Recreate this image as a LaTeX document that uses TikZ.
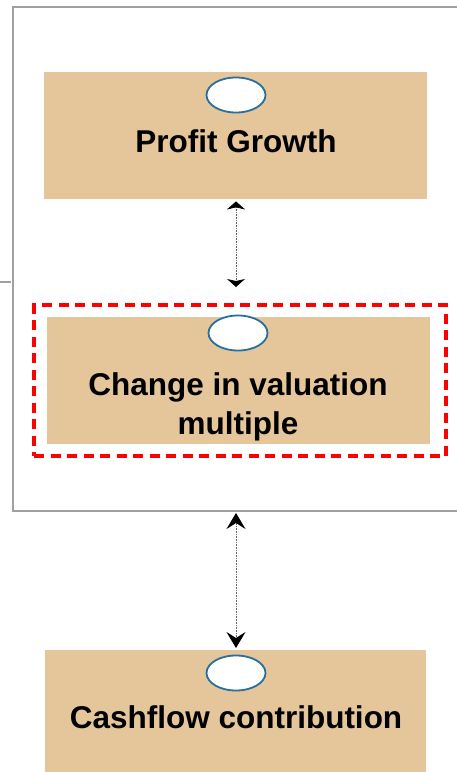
\documentclass[tikz,border=0pt]{standalone}
\usepackage{fontspec}
\setmainfont{Liberation Sans}
\usetikzlibrary{arrows.meta,shapes.geometric}
\definecolor{tan}{RGB}{228,198,154}
\definecolor{ovalblue}{RGB}{40,110,160}
\definecolor{framegray}{RGB}{160,160,160}
\begin{document}
\begin{tikzpicture}[x=1pt,y=-1pt,
  tanbox/.style={fill=tan,draw=none,inner sep=0pt,anchor=north west},
  oval/.style={ellipse,draw=ovalblue,line width=1.8pt,fill=white,minimum width=59pt,minimum height=35pt,inner sep=0pt},
  label/.style={font=\bfseries\fontsize{31.5}{39}\selectfont,inner sep=0pt,align=center,anchor=base},
  link/.style={draw=black!60,line width=0.9pt,dash pattern=on 0.8pt off 0.8pt},
  redframe/.style={draw=red,line width=4pt,dash pattern=on 10pt off 6.5pt,inner sep=0pt,anchor=north west},
  smalltip/.style={arrows={Stealth[length=8pt,width=18pt,inset=2pt,color=black]-Stealth[length=8pt,width=18pt,inset=2pt,color=black]}},
  bigtip/.style={arrows={Stealth[length=16pt,width=19pt,inset=6pt,color=black]-Stealth[length=16pt,width=19pt,inset=6pt,color=black]}}
]
\useasboundingbox (0,0) rectangle (457,772);
% outer frame
\draw[framegray,line width=1.3pt] (460,7) -- (13,7) -- (13,511) -- (460,511);
\draw[framegray,line width=1.3pt] (0,282) -- (11,282);
% boxes
\node[tanbox,minimum width=383pt,minimum height=127pt] (pg) at (44,72) {};
\node[redframe,minimum width=412pt,minimum height=151pt] (cvframe) at (32,303) {};
\node[tanbox,minimum width=383pt,minimum height=127pt] (cv) at (47,317) {};
\node[tanbox,minimum width=381pt,minimum height=125pt] (cf) at (45,650) {};
% ovals
\node[oval] (pgo) at (236,95) {};
\node[oval] (cvo) at (238,333) {};
\node[oval] (cfo) at (236,673) {};
% labels
\node[label] (pgt) at (236,152) {Profit Growth};
\node[label] (cvt) at (238,434) {Change in valuation\\multiple};
\node[label] (cft) at (236,728) {Cashflow contribution};
% connectors
\coordinate (framebottom) at (236,511);
\draw[link,smalltip]
  ([yshift=-2pt]pg.south -| pgo) -- ([yshift=16pt]cvframe.north -| pgo);
\draw[link,bigtip]
  ([yshift=-2pt]framebottom) -- ([yshift=2pt]cf.north -| cfo);
\end{tikzpicture}
\end{document}
